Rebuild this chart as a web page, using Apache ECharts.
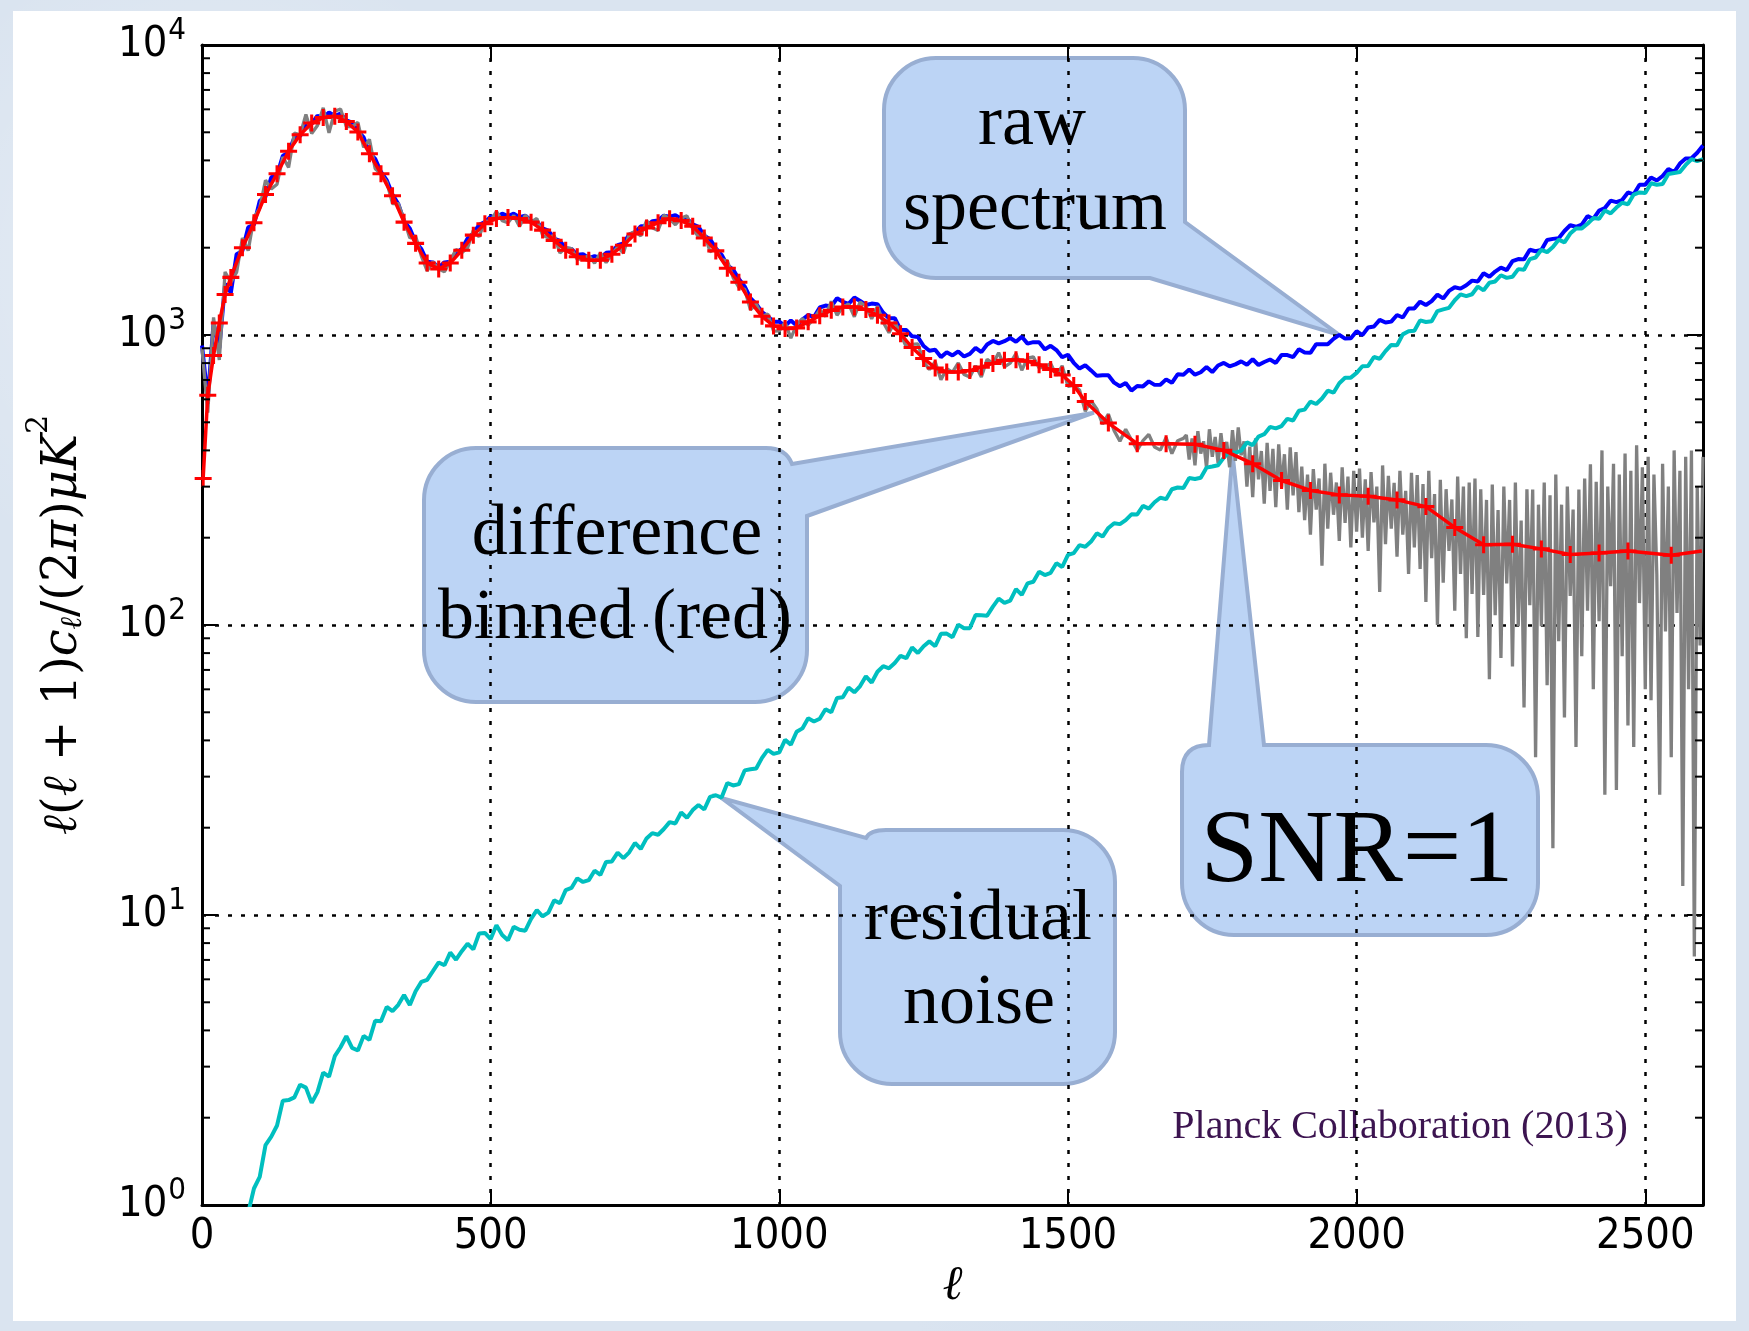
<!DOCTYPE html>
<html>
<head>
<meta charset="utf-8">
<script src="https://cdn.jsdelivr.net/npm/echarts@6/dist/echarts.min.js"></script>
<style>
  html, body { margin: 0; padding: 0; width: 1749px; height: 1331px; overflow: hidden; }
  body {
    background-color: #dae4f0;
    background-image:
      radial-gradient(circle at 12% 20%, rgba(255,255,255,0.35) 0, rgba(255,255,255,0) 18%),
      radial-gradient(circle at 70% 85%, rgba(200,214,232,0.5) 0, rgba(200,214,232,0) 22%),
      radial-gradient(circle at 40% 60%, rgba(255,255,255,0.25) 0, rgba(255,255,255,0) 25%);
  }
  #panel { position: absolute; left: 13px; top: 11px; width: 1723px; height: 1310px; background: #ffffff; }
  #chart { position: absolute; left: 0; top: 0; width: 1749px; height: 1331px; }
</style>
</head>
<body>
<div id="panel"></div>
<div id="chart"></div>
<script>
// ---- axes -----------------------------------------------------------------
const ELL_MIN = 0;
const ELL_MAX = 2600;
const ELL_TICK_STEP = 500;
const Y_MIN = 1;
const Y_MAX = 10000;
const Y_TICK_EXPONENTS = ['0', '1', '2', '3', '4'];

// ---- binned difference spectrum (red, "+" markers) ------------------------
const BIN_ELL = [
  2, 10, 20, 30, 40,
  50, 70, 90, 110, 130, 150, 170, 190, 210, 230,
  250, 270, 290, 310, 330, 350, 370, 390, 410, 430,
  450, 470, 490, 510, 530, 550, 570, 590, 610, 630,
  650, 670, 690, 710, 730, 750, 770, 790, 810, 830,
  850, 870, 890, 910, 930, 950, 970, 990, 1010, 1030,
  1050, 1070, 1090, 1110, 1130, 1150, 1170, 1190, 1210, 1230,
  1250, 1270, 1290, 1310, 1330, 1350, 1370, 1390, 1410, 1430,
  1450, 1470, 1490, 1510, 1530,
  1570, 1620, 1670, 1720, 1770, 1820, 1870, 1920, 1970, 2020,
  2070, 2120, 2170, 2220, 2270, 2320, 2370, 2420, 2470,
  2545, 2598
];
const BIN_VAL = [
  320, 620, 850, 1100, 1380,
  1580, 2000, 2440, 3050, 3600, 4300, 4900, 5380, 5620, 5680,
  5450, 5010, 4220, 3600, 3020, 2450, 2070, 1770, 1690, 1770,
  1960, 2210, 2420, 2520, 2540, 2520, 2450, 2300, 2120, 1960,
  1860, 1810, 1810, 1900, 2040, 2230, 2340, 2440, 2518, 2480,
  2370, 2160, 1950, 1700, 1520, 1300, 1160, 1075, 1052, 1058,
  1110, 1165, 1216, 1248, 1250, 1225, 1170, 1100, 1010, 905,
  830, 770, 746, 745, 754, 775, 798, 818, 822, 812,
  790, 760, 728, 670, 590,
  497, 422, 422, 420, 400, 360, 315, 291, 281, 278,
  270, 256, 217, 189, 190, 183, 175, 177, 180,
  174, 180
];

// ---- unbinned difference spectrum (grey) ----------------------------------
// ell = 0 .. 1700, every 10
const DIFF_LO_START = 0;
const DIFF_LO_STEP = 10;
const DIFF_LO = [
  900, 540, 1150, 820, 1650, 1517, 1647, 2160, 1954, 2538,
  2740, 3416, 3187, 3312, 4108, 3784, 4968, 4900, 5757, 4950,
  5280, 6070, 4981, 5907, 6016, 5232, 5230, 5411, 4435, 4726,
  3744, 3600, 3366, 2839, 2839, 2499, 2160, 2194, 1872, 1664,
  1789, 1690, 1651, 1805, 1972, 1921, 1997, 2298, 2181, 2468,
  2470, 2671, 2479, 2438, 2581, 2369, 2590, 2450, 2523, 2208,
  2166, 2205, 1918, 1999, 1986, 1823, 1830, 1882, 1769, 1919,
  1776, 1900, 2009, 1918, 2226, 2275, 2198, 2480, 2342, 2294,
  2590, 2518, 2400, 2530, 2576, 2323, 2179, 2246, 1936, 1989,
  1820, 1802, 1578, 1459, 1438, 1222, 1279, 1160, 1182, 1032,
  1034, 1105, 975, 1084, 1139, 1082, 1138, 1223, 1160, 1307,
  1170, 1248, 1281, 1156, 1300, 1256, 1138, 1258, 1107, 1018,
  1108, 1010, 909, 928, 932, 809, 760, 809, 701, 765,
  745, 801, 731, 716, 784, 717, 825, 798, 869, 777,
  800, 863, 756, 832, 841, 770, 775, 798, 725, 783,
  665, 670, 646, 546, 593, 556, 493, 534, 468, 430,
  473, 435, 401, 432, 454, 411, 401, 443, 390, 432,
  440
];
// ell = 1705 .. 2600, every 5
const DIFF_HI_START = 1705;
const DIFF_HI_STEP = 5;
const DIFF_HI = [
  452, 372, 440, 355, 466, 390, 430, 348, 473, 380,
  445, 362, 459, 376, 428, 350, 470, 368, 480, 385,
  430, 300, 412, 276, 440, 318, 398, 262, 425, 290,
  405, 255, 420, 298, 388, 250, 410, 280, 395, 245,
  352, 230, 330, 205, 345, 250, 320, 160, 360, 215,
  335, 240, 310, 195, 350, 225, 325, 185, 340, 210,
  346, 200, 318, 180, 337, 226, 300, 130, 355, 190,
  327, 215, 309, 172, 340, 205, 290, 150, 335, 185,
  329, 156, 306, 120, 340, 170, 283, 100, 317, 140,
  294, 180, 271, 112, 325, 150, 300, 90, 310, 128,
  320, 91, 294, 127, 270, 65, 305, 108, 249, 77,
  300, 139, 270, 72, 310, 99, 229, 52, 294, 117,
  293, 35, 260, 99, 310, 62, 280, 17, 330, 88,
  260, 48, 300, 126, 250, 38, 293, 78, 320, 112,
  358, 60, 312, 103, 400, 26, 300, 136, 360, 27,
  330, 78, 390, 45, 340, 38, 417, 119, 350, 60,
  380, 55, 330, 150, 26, 360, 95, 300, 35, 400,
  110, 340, 12.6, 380, 60, 400, 7.2, 300, 85, 380
];

// ---- raw spectrum (blue), ell = 0 .. 2600, every 10 -----------------------
const RAW_START = 0;
const RAW_STEP = 10;
const RAW = [
  920, 600, 1100, 900, 1500, 1400, 1900, 1950, 2350, 2400,
  2900, 3000, 3500, 3550, 4150, 4250, 4800, 4850, 5350, 5350,
  5700, 5600, 5850, 5700, 5800, 5500, 5400, 5050, 4800, 4250,
  4050, 3650, 3420, 3050, 2830, 2470, 2330, 2090, 1980, 1790,
  1780, 1710, 1780, 1790, 1920, 1980, 2150, 2240, 2400, 2450,
  2560, 2550, 2620, 2570, 2620, 2550, 2580, 2480, 2460, 2330,
  2290, 2150, 2110, 1990, 1980, 1890, 1900, 1840, 1870, 1840,
  1920, 1930, 2040, 2070, 2220, 2260, 2370, 2370, 2470, 2480,
  2580, 2560, 2590, 2520, 2520, 2410, 2360, 2200, 2140, 1990,
  1890, 1740, 1680, 1560, 1470, 1340, 1280, 1200, 1160, 1110,
  1112, 1074, 1123, 1078, 1130, 1172, 1154, 1244, 1263, 1254,
  1339, 1302, 1280, 1346, 1310, 1269, 1283, 1277, 1193, 1142,
  1142, 1043, 1040, 990, 984, 916, 882, 889, 839, 872,
  850, 878, 843, 861, 903, 873, 927, 954, 936, 952,
  976, 948, 986, 934, 945, 944, 892, 918, 887, 838,
  855, 802, 766, 787, 755, 723, 727, 726, 685, 666,
  683, 643, 667, 665, 692, 673, 674, 703, 684, 732,
  730, 760, 730, 744, 775, 745, 785, 801, 780, 792,
  811, 790, 825, 788, 807, 823, 801, 853, 853, 839,
  893, 871, 868, 930, 930, 929, 970, 1001, 972, 975,
  1030, 999, 1061, 1070, 1128, 1104, 1112, 1172, 1149, 1234,
  1235, 1303, 1269, 1309, 1377, 1337, 1419, 1461, 1445, 1485,
  1540, 1530, 1633, 1588, 1655, 1707, 1673, 1797, 1828, 1823,
  1967, 1945, 1964, 2127, 2145, 2156, 2283, 2390, 2361, 2401,
  2570, 2512, 2687, 2740, 2905, 2871, 2920, 3101, 3056, 3295,
  3300, 3492, 3410, 3534, 3733, 3647, 3899, 4060, 4069, 4250,
  4500
];

// ---- residual noise (cyan), ell = 80 .. 2600, every 10 --------------------
const NOISE_START = 80;
const NOISE_STEP = 10;
const NOISE = [
  0.94, 1.14, 1.25, 1.61, 1.72, 1.88, 2.29, 2.3, 2.35, 2.6,
  2.54, 2.25, 2.45, 2.86, 2.77, 3.26, 3.5, 3.82, 3.48, 3.41,
  3.83, 3.71, 4.32, 4.3, 4.82, 4.66, 4.9, 5.3, 4.89, 5.46,
  5.88, 5.98, 6.4, 6.86, 6.71, 7.42, 7.01, 7.5, 7.96, 7.61,
  8.63, 8.67, 8.26, 9.22, 8.53, 8.18, 9.1, 8.9, 8.83, 9.69,
  10.39, 9.9, 10.19, 11.23, 10.98, 12.18, 12.4, 13.38, 13.0, 13.19,
  14.21, 13.75, 15.24, 15.3, 16.41, 15.71, 16.45, 17.72, 16.9, 18.37,
  19.16, 18.91, 19.8, 20.91, 20.69, 22.57, 21.63, 23.0, 23.95, 23.11,
  25.54, 25.88, 25.41, 28.53, 27.97, 28.27, 31.52, 31.8, 32.01, 34.81,
  37.1, 35.95, 36.38, 40.17, 38.68, 42.83, 44.0, 47.65, 46.49, 47.53,
  51.26, 50.04, 56.03, 56.3, 60.92, 58.59, 61.56, 66.54, 63.32, 69.02,
  72.1, 70.92, 74.0, 78.28, 76.83, 83.6, 80.03, 84.5, 87.8, 84.52,
  93.2, 93.4, 90.7, 100.3, 97.5, 97.4, 108.2, 108, 107.7, 115.7,
  123.3, 119.2, 121.3, 132.9, 127, 139.1, 141, 152.6, 148.7, 151.3,
  163.4, 158.5, 174.4, 177, 188.5, 186.2, 194, 207.1, 201.8, 216.1,
  224.4, 222.8, 230, 240.7, 240.6, 257.5, 251.9, 265, 274.7, 271.6,
  293.8, 298, 297, 321.4, 318.8, 322, 348.8, 352, 355.7, 377.7,
  396.6, 392, 398.9, 426.4, 417.1, 446.4, 455, 482, 476.2, 485.1,
  514, 507.3, 547.7, 553, 589.2, 578.2, 603.9, 642.6, 632.4, 681.8,
  712, 712.8, 740, 780.3, 782.1, 839.5, 828.1, 880, 924.2, 921.5,
  1005, 1030, 1034, 1123, 1109, 1116, 1209, 1225, 1240, 1318,
  1380, 1361, 1382, 1469, 1426, 1515, 1530, 1607, 1574, 1588,
  1687, 1678, 1826, 1850, 1967, 1931, 2010, 2132, 2086, 2237,
  2331, 2331, 2420, 2530, 2515, 2688, 2626, 2750, 2858, 2823,
  3050, 3101, 3087, 3337, 3297, 3317, 3590, 3620, 3646, 3858,
  4038, 3980, 4038
];

// ---- annotation texts and layout ---------------------------------------------
const CREDIT = 'Planck Collaboration (2013)';
const BUBBLES = [
  {
    box: [884, 58, 1185, 278], tip: [1970, 1000],
    tail: { corner: 'br', pts: [[1185, 222], 'TIP', [1150, 278]] },
    lines: [['raw', 1032, 144], ['spectrum', 1035, 229]], size: 72
  },
  {
    box: [424, 448, 807, 702], tip: [1545, 540],
    tail: { corner: 'tr', pts: [[766, 448], { q: [786, 448], to: [792, 464] }, 'TIP', [807, 516]] },
    lines: [['difference', 617, 554], ['binned (red)', 615, 638]], size: 72
  },
  {
    box: [840, 830, 1115, 1084], tip: [900, 25.3],
    tail: { corner: 'tl', pts: [[840, 886], 'TIP', [866, 838], { q: [870, 830], to: [886, 830] }] },
    lines: [['residual', 978, 939], ['noise', 979, 1023]], size: 72
  },
  {
    box: [1182, 745, 1538, 935], tip: [1785, 390],
    tail: { corner: 'tl', pts: [[1182, 772], { q: [1182, 745], to: [1209, 745] }, 'TIP', [1264, 745]] },
    lines: [['SNR=1', 1357, 881]], size: 104
  }
];

// ---------------------------------------------------------------------------
const SANS = '"DejaVu Sans Condensed", "DejaVu Sans", sans-serif';
const SERIF = '"Liberation Serif", "DejaVu Serif", serif';
const MATH = '"DejaVu Serif", serif';

const series = (start, step, vals) => vals.map((v, i) => [start + i * step, v]);

const rawData = series(RAW_START, RAW_STEP, RAW);
const diffData = series(DIFF_LO_START, DIFF_LO_STEP, DIFF_LO)
  .concat(series(DIFF_HI_START, DIFF_HI_STEP, DIFF_HI));
const noiseData = series(NOISE_START, NOISE_STEP, NOISE);
const binData = BIN_ELL.map((l, i) => {
  const item = { value: [l, BIN_VAL[i]] };
  if (i === BIN_ELL.length - 1) item.symbol = 'none';
  return item;
});

// minor ticks of the log axis: 2..9 x 10^n
const minorTicks = [];
for (let d = Y_MIN; d < Y_MAX; d *= 10) {
  for (let m = 2; m <= 9; m++) minorTicks.push([ELL_MIN, m * d]);
}

// speech-bubble outline: rounded box with one corner replaced by a pointer
const K = 0.5523;
function bubblePath(box, r, tail, tip) {
  const [x0, y0, x1, y1] = box;
  const seg = [];
  const L = (x, y) => seg.push(`L ${x} ${y}`);
  const C = (a, b, c, d, e, f) => seg.push(`C ${a} ${b} ${c} ${d} ${e} ${f}`);
  const corners = {
    tl: () => { L(x0, y0 + r); C(x0, y0 + r - K * r, x0 + r - K * r, y0, x0 + r, y0); },
    tr: () => { L(x1 - r, y0); C(x1 - r + K * r, y0, x1, y0 + r - K * r, x1, y0 + r); },
    br: () => { L(x1, y1 - r); C(x1, y1 - r + K * r, x1 - r + K * r, y1, x1 - r, y1); },
    bl: () => { L(x0 + r, y1); C(x0 + r - K * r, y1, x0, y1 - r + K * r, x0, y1 - r); }
  };
  ['tl', 'tr', 'br', 'bl'].forEach(c => {
    if (tail.corner !== c) { corners[c](); return; }
    tail.pts.forEach(p => {
      if (p === 'TIP') L(tip[0], tip[1]);
      else if (p.q) seg.push(`Q ${p.q[0]} ${p.q[1]} ${p.to[0]} ${p.to[1]}`);
      else L(p[0], p[1]);
    });
  });
  return `M ${x0} ${(y0 + y1) / 2} ` + seg.join(' ') + ' Z';
}

function textEl(t, x, baseline, size, color) {
  return {
    type: 'text', x: x, y: baseline - 0.26 * size,
    style: {
      text: t, fill: color, font: `${size}px ${SERIF}`,
      align: 'center', verticalAlign: 'middle', textAlign: 'center', textVerticalAlign: 'middle'
    }
  };
}

const PLUS = 'path://M-1.8,-10H1.8V-1.8H10V1.8H1.8V10H-1.8V1.8H-10V-1.8H-1.8Z';
const DOTS = [4, 9];

const frameAxisLine = { show: true, onZero: false, lineStyle: { color: '#000', width: 3 } };
const majorTick = { show: true, inside: true, length: 16, lineStyle: { color: '#000', width: 2 } };

const chart = echarts.init(document.getElementById('chart'), null, { renderer: 'canvas' });

chart.setOption({
  animation: false,
  backgroundColor: 'transparent',
  grid: { left: 202, top: 45, width: 1501, height: 1160, containLabel: false, outerBoundsMode: 'none' },
  xAxis: [
    {
      type: 'value', min: ELL_MIN, max: ELL_MAX, interval: ELL_TICK_STEP, position: 'bottom',
      axisLine: frameAxisLine,
      axisTick: majorTick,
      axisLabel: {
        color: '#000', fontSize: 43, fontFamily: SANS, margin: 10, showMaxLabel: false,
        formatter: v => String(v)
      },
      splitLine: { show: true, lineStyle: { color: '#000', width: 2.5, type: DOTS } },
      name: 'ℓ', nameLocation: 'middle', nameGap: 58,
      nameTextStyle: { color: '#000', fontSize: 48, fontFamily: MATH, fontStyle: 'italic' }
    },
    {
      type: 'value', min: ELL_MIN, max: ELL_MAX, interval: ELL_TICK_STEP, position: 'top',
      axisLine: frameAxisLine, axisTick: majorTick,
      axisLabel: { show: false }, splitLine: { show: false }
    }
  ],
  yAxis: [
    {
      type: 'log', logBase: 10, min: Y_MIN, max: Y_MAX, position: 'left',
      axisLine: frameAxisLine,
      axisTick: majorTick,
      axisLabel: {
        margin: 16,
        formatter: v => `{b|10}{e|${Y_TICK_EXPONENTS[Math.round(Math.log10(v))]}}`,
        rich: {
          b: { fontSize: 43, fontFamily: SANS, color: '#000', lineHeight: 43, verticalAlign: 'bottom' },
          e: { fontSize: 31, fontFamily: SANS, color: '#000', lineHeight: 31, verticalAlign: 'bottom', padding: [0, 0, 20, 1] }
        }
      },
      splitLine: { show: true, lineStyle: { color: '#000', width: 2.5, type: DOTS } },
      name: '{i|ℓ}{r|(}{i|ℓ}{r| + 1)}{i|c}{s|ℓ}{r|/(2}{i|π}{r|)}{i|μK}{p|2}',
      nameLocation: 'middle', nameGap: 114,
      nameTextStyle: {
        rich: {
          i: { fontFamily: MATH, fontStyle: 'italic', fontSize: 48, color: '#000', lineHeight: 64, verticalAlign: 'bottom' },
          r: { fontFamily: MATH, fontSize: 48, color: '#000', lineHeight: 64, verticalAlign: 'bottom' },
          s: { fontFamily: MATH, fontStyle: 'italic', fontSize: 30, color: '#000', lineHeight: 18, verticalAlign: 'bottom' },
          p: { fontFamily: MATH, fontSize: 30, color: '#000', lineHeight: 30, verticalAlign: 'top' }
        }
      }
    },
    {
      type: 'log', logBase: 10, min: Y_MIN, max: Y_MAX, position: 'right',
      axisLine: frameAxisLine, axisTick: majorTick,
      axisLabel: { show: false }, splitLine: { show: false }
    }
  ],
  series: [
    {
      name: 'callouts', type: 'custom', data: [[ELL_MIN, Y_MIN]], silent: true, clip: false, z: -1,
      renderItem: (params, api) => {
        const children = [];
        BUBBLES.forEach(b => {
          const tip = api.coord(b.tip);
          children.push({
            type: 'path',
            shape: { pathData: bubblePath(b.box, 52, b.tail, tip) },
            style: { fill: '#bcd4f5', stroke: '#98aed2', lineWidth: 4 }
          });
          b.lines.forEach(([t, x, base]) => children.push(textEl(t, x, base, b.size, '#000')));
        });
        children.push(textEl(CREDIT, 1400, 1138, 40, '#3c1450'));
        return { type: 'group', children: children };
      }
    },
    {
      name: 'raw spectrum', type: 'line', data: rawData, showSymbol: false, silent: true,
      lineStyle: { color: '#0000ff', width: 4 }, z: 2
    },
    {
      name: 'difference', type: 'line', data: diffData, showSymbol: false, silent: true,
      lineStyle: { color: '#808080', width: 3.3 }, z: 3
    },
    {
      name: 'residual noise', type: 'line', data: noiseData, showSymbol: false, silent: true,
      lineStyle: { color: '#00bfbf', width: 4 }, z: 4
    },
    {
      name: 'difference binned', type: 'line', data: binData, silent: true,
      symbol: PLUS, symbolSize: 17, showSymbol: true,
      itemStyle: { color: '#ff0000' },
      lineStyle: { color: '#ff0000', width: 3.5 }, z: 5
    },
    {
      name: 'minor ticks', type: 'custom', data: minorTicks, silent: true, clip: false, z: 6,
      renderItem: (params, api) => {
        const v = api.value(1);
        const l = api.coord([ELL_MIN, v]);
        const r = api.coord([ELL_MAX, v]);
        const st = { stroke: '#000', lineWidth: 2 };
        return {
          type: 'group',
          children: [
            { type: 'line', shape: { x1: l[0], y1: l[1], x2: l[0] + 8, y2: l[1] }, style: st },
            { type: 'line', shape: { x1: r[0] - 8, y1: r[1], x2: r[0], y2: r[1] }, style: st }
          ]
        };
      }
    }
  ]
});
</script>
</body>
</html>
